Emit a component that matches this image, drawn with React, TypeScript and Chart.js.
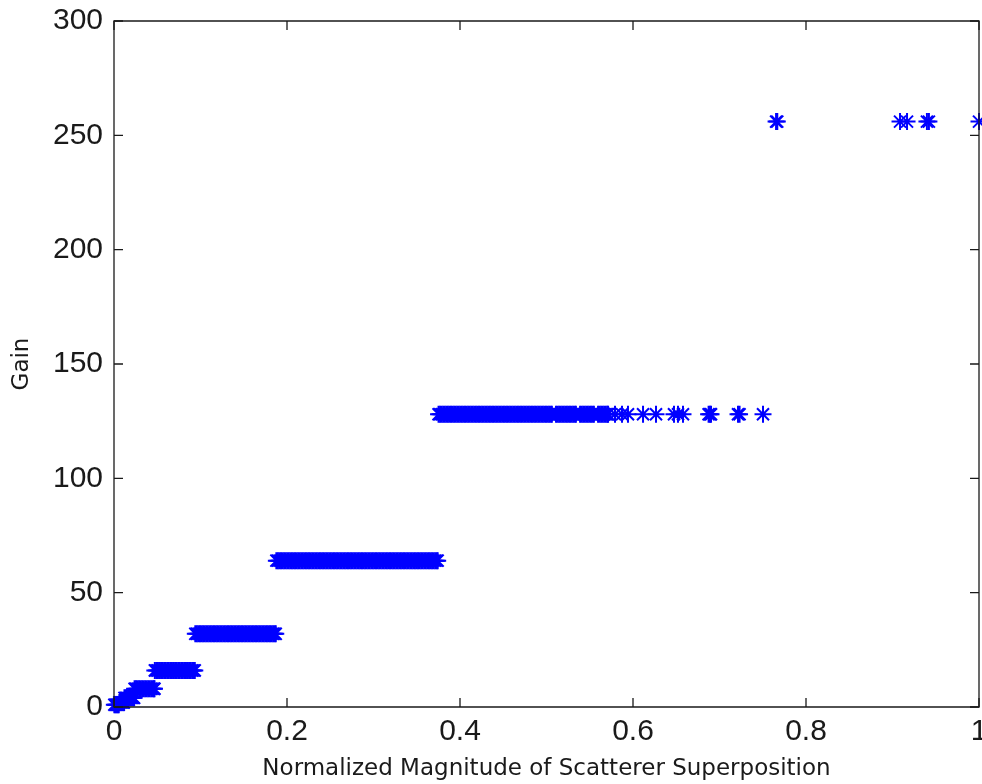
import React, { useEffect, useRef } from "react";
import { Chart, registerables } from "chart.js";

Chart.register(...registerables);

// Normalized magnitude samples, grouped by the quantized gain they map to.
const gain1X = [0.0004, 0.0017, 0.003, 0.0043, 0.0055];
const gain2X = [0.0062, 0.0076, 0.0089, 0.0103, 0.0115];
const gain4X = [0.0121, 0.0136, 0.015, 0.0166, 0.0181, 0.0196, 0.0211, 0.0225, 0.0233];
const gain8X = [
  0.0238, 0.0255, 0.0272, 0.029, 0.0307, 0.0325, 0.0342, 0.036, 0.0377, 0.0395, 0.0412,
  0.043, 0.0447, 0.0461, 0.0468,
];
const gain16X = [
  0.0472, 0.049, 0.0508, 0.0526, 0.0544, 0.0562, 0.058, 0.0598, 0.0616, 0.0634, 0.0652,
  0.067, 0.0688, 0.0706, 0.0724, 0.0742, 0.076, 0.0778, 0.0796, 0.0814, 0.0832, 0.085,
  0.0868, 0.0886, 0.0904, 0.0921, 0.0934,
];
const gain32X = [
  0.094, 0.0958, 0.0976, 0.0994, 0.1012, 0.103, 0.1048, 0.1066, 0.1084, 0.1102, 0.112,
  0.1138, 0.1156, 0.1174, 0.1192, 0.121, 0.1228, 0.1246, 0.1264, 0.1282, 0.13, 0.1318,
  0.1336, 0.1354, 0.1372, 0.139, 0.1408, 0.1426, 0.1444, 0.1462, 0.148, 0.1498, 0.1516,
  0.1534, 0.1552, 0.157, 0.1588, 0.1606, 0.1624, 0.1642, 0.166, 0.1678, 0.1696, 0.1714,
  0.1732, 0.175, 0.1768, 0.1786, 0.1804, 0.1822, 0.184, 0.1857, 0.187,
];
const gain64X = [
  0.1877, 0.1895, 0.1913, 0.1931, 0.1949, 0.1967, 0.1985, 0.2003, 0.2021, 0.2039,
  0.2057, 0.2075, 0.2093, 0.2111, 0.2129, 0.2147, 0.2165, 0.2183, 0.2201, 0.2219,
  0.2237, 0.2255, 0.2273, 0.2291, 0.2309, 0.2327, 0.2345, 0.2363, 0.2381, 0.2399,
  0.2417, 0.2435, 0.2453, 0.2471, 0.2489, 0.2507, 0.2525, 0.2543, 0.2561, 0.2579,
  0.2597, 0.2615, 0.2633, 0.2651, 0.2669, 0.2687, 0.2705, 0.2723, 0.2741, 0.2759,
  0.2777, 0.2795, 0.2813, 0.2831, 0.2849, 0.2867, 0.2885, 0.2903, 0.2921, 0.2939,
  0.2957, 0.2975, 0.2993, 0.3011, 0.3029, 0.3047, 0.3065, 0.3083, 0.3101, 0.3119,
  0.3137, 0.3155, 0.3173, 0.3191, 0.3209, 0.3227, 0.3245, 0.3263, 0.3281, 0.3299,
  0.3317, 0.3335, 0.3353, 0.3371, 0.3389, 0.3407, 0.3425, 0.3443, 0.3461, 0.3479,
  0.3497, 0.3515, 0.3533, 0.3551, 0.3569, 0.3587, 0.3605, 0.3623, 0.3641, 0.3659,
  0.3677, 0.3695, 0.3713, 0.3731, 0.3742,
];
const gain128X = [
  0.3752, 0.377, 0.3788, 0.3806, 0.3824, 0.3842, 0.386, 0.3878, 0.3896, 0.3914,
  0.3932, 0.395, 0.3968, 0.3986, 0.4004, 0.4022, 0.404, 0.4058, 0.4076, 0.4094,
  0.4112, 0.413, 0.4148, 0.4166, 0.4184, 0.4202, 0.422, 0.4238, 0.4256, 0.4274,
  0.4292, 0.431, 0.4328, 0.4346, 0.4364, 0.4382, 0.44, 0.4418, 0.4436, 0.4454,
  0.4472, 0.449, 0.4508, 0.4526, 0.4544, 0.4562, 0.458, 0.4598, 0.4616, 0.4634,
  0.4652, 0.467, 0.4688, 0.4706, 0.4724, 0.4742, 0.476, 0.4778, 0.4796, 0.4814,
  0.4832, 0.485, 0.4868, 0.4886, 0.4904, 0.4922, 0.494, 0.4958, 0.4976, 0.4994,
  0.5012, 0.503, 0.5048, 0.5062,
  0.511, 0.5128, 0.5146, 0.5164, 0.5182, 0.52, 0.5218, 0.5236, 0.5254, 0.5272, 0.529,
  0.5308, 0.5326, 0.534,
  0.5388, 0.5406, 0.5424, 0.5442, 0.546, 0.5478, 0.5496, 0.5514, 0.5532, 0.5548,
  0.5596, 0.5614, 0.5632, 0.565, 0.5668, 0.5686, 0.5704, 0.5712,
  0.5792, 0.5873, 0.5942, 0.6116, 0.6266, 0.6474, 0.652, 0.6578, 0.6874, 0.689, 0.6902,
  0.7214, 0.7232, 0.7503,
];
const gain256X = [0.7654, 0.7668, 0.9087, 0.9168, 0.9398, 0.9421, 1.0];

const gainLevels = [1, 2, 4, 8, 16, 32, 64, 128, 256];
const magnitudeGroups = [gain1X, gain2X, gain4X, gain8X, gain16X, gain32X, gain64X, gain128X, gain256X];

const xTickValues = [0, 0.2, 0.4, 0.6, 0.8, 1];
const yTickValues = [0, 50, 100, 150, 200, 250, 300];

const X_LABEL = "Normalized Magnitude of Scatterer Superposition";
const Y_LABEL = "Gain";

// Box around the axes with inward tick marks on all four sides.
const boxedAxes = {
  id: "boxedAxes",
  afterDatasetsDraw(chart: any) {
    const { ctx, chartArea, scales } = chart;
    const { left, right, top, bottom } = chartArea;
    const tick = 9;
    ctx.save();
    ctx.strokeStyle = "#1a1a1a";
    ctx.lineWidth = 1.3;
    ctx.beginPath();
    ctx.rect(left, top, right - left, bottom - top);
    ctx.stroke();
    ctx.beginPath();
    for (const v of xTickValues) {
      const px = scales.x.getPixelForValue(v);
      ctx.moveTo(px, bottom);
      ctx.lineTo(px, bottom - tick);
      ctx.moveTo(px, top);
      ctx.lineTo(px, top + tick);
    }
    for (const v of yTickValues) {
      const py = scales.y.getPixelForValue(v);
      ctx.moveTo(left, py);
      ctx.lineTo(left + tick, py);
      ctx.moveTo(right, py);
      ctx.lineTo(right - tick, py);
    }
    ctx.stroke();
    ctx.restore();
  },
};

export default function App() {
  const canvasRef = useRef<HTMLCanvasElement | null>(null);

  useEffect(() => {
    const canvas = canvasRef.current;
    if (!canvas) return;

    const points: { x: number; y: number }[] = [];
    magnitudeGroups.forEach((xs, i) => {
      xs.forEach((x) => points.push({ x, y: gainLevels[i] }));
    });

    const chart = new Chart(canvas, {
      type: "scatter",
      data: {
        datasets: [
          {
            data: points,
            pointStyle: "star",
            pointRadius: 8.5,
            pointHoverRadius: 8.5,
            borderColor: "#0000ff",
            backgroundColor: "#0000ff",
            pointBorderWidth: 2,
            borderWidth: 2,
            clip: false,
          } as any,
        ],
      },
      plugins: [boxedAxes],
      options: {
        responsive: false,
        animation: false,
        devicePixelRatio: 1,
        layout: { autoPadding: false, padding: { left: 0, right: 3, top: 21, bottom: 0 } },
        plugins: { legend: { display: false }, tooltip: { enabled: false } },
        events: [],
        scales: {
          x: {
            type: "linear",
            min: 0,
            max: 1,
            afterFit: (scale: any) => {
              scale.height = 77;
              scale.paddingLeft = 0;
              scale.paddingRight = 0;
            },
            afterBuildTicks: (scale: any) => {
              scale.ticks = xTickValues.map((value) => ({ value }));
            },
            grid: { display: false, drawTicks: false },
            border: { display: false },
            ticks: {
              padding: 7,
              autoSkip: false,
              maxRotation: 0,
              color: "#1a1a1a",
              callback: (v: any) => String(v),
              font: { family: "'Liberation Sans', Arial, sans-serif", size: 30 },
            },
            title: {
              display: true,
              text: X_LABEL,
              color: "#1a1a1a",
              padding: { top: 0, bottom: 1.5 },
              font: { family: "'DejaVu Sans', sans-serif", size: 23 },
            },
          },
          y: {
            type: "linear",
            min: 0,
            max: 300,
            afterFit: (scale: any) => {
              scale.width = 114;
              scale.paddingTop = 0;
              scale.paddingBottom = 0;
            },
            afterBuildTicks: (scale: any) => {
              scale.ticks = yTickValues.map((value) => ({ value }));
            },
            grid: { display: false, drawTicks: false },
            border: { display: false },
            ticks: {
              padding: 11,
              color: "#1a1a1a",
              callback: (v: any) => String(v),
              font: { family: "'Liberation Sans', Arial, sans-serif", size: 30 },
            },
            title: {
              display: true,
              text: Y_LABEL,
              color: "#1a1a1a",
              padding: { top: 8.5, bottom: 0 },
              font: { family: "'DejaVu Sans', sans-serif", size: 23 },
            },
          },
        },
      },
    });

    return () => chart.destroy();
  }, []);

  return (
    <div style={{ position: "fixed", left: 0, top: 0, width: 982, height: 784, background: "#fff" }}>
      <canvas ref={canvasRef} width={982} height={784} style={{ display: "block", width: 982, height: 784 }} />
    </div>
  );
}
